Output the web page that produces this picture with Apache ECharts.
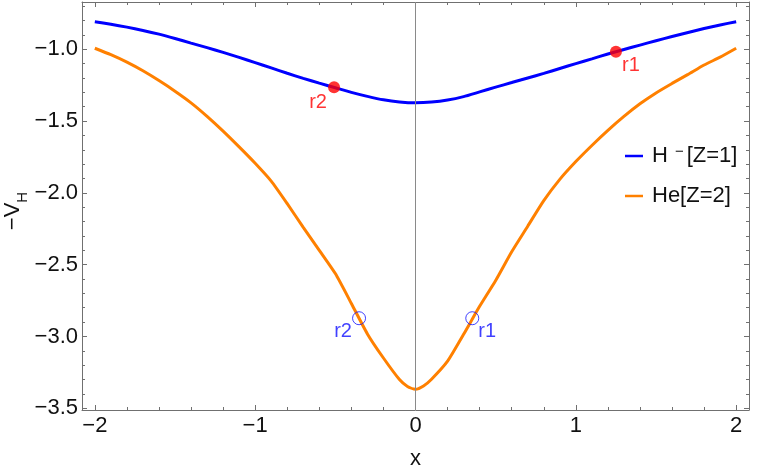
<!DOCTYPE html>
<html>
<head>
<meta charset="utf-8">
<script src="https://cdn.jsdelivr.net/npm/echarts@6/dist/echarts.min.js"></script>
<style>html,body{margin:0;padding:0;background:#fff}#c{width:766px;height:473px}</style>
</head>
<body>
<div id="c"></div>
<script>
// ---- data ----
const xRange = [-2.08, 2.08];
const yRange = [-3.512, -0.671];
const xTicks = [-2, -1, 0, 1, 2];
const xMinorTicks = [-1.8,-1.6,-1.4,-1.2,-0.8,-0.6,-0.4,-0.2,0.2,0.4,0.6,0.8,1.2,1.4,1.6,1.8];
const yTicks = [-3.5, -3.0, -2.5, -2.0, -1.5, -1.0];
const yMinorTicks = [-3.4,-3.3,-3.2,-3.1,-2.9,-2.8,-2.7,-2.6,-2.4,-2.3,-2.2,-2.1,-1.9,-1.8,-1.7,-1.6,-1.4,-1.3,-1.2,-1.1,-0.9,-0.8,-0.7];

const hName = 'H-';
const heName = 'He';
const hX = [-2.0,-1.9,-1.8,-1.7,-1.6,-1.5,-1.4,-1.3,-1.2,-1.1,-1.0,-0.9,-0.8,-0.7,-0.6,-0.5,-0.4,-0.3,-0.2,-0.1,0,
            0.1,0.2,0.3,0.4,0.5,0.6,0.7,0.8,0.9,1.0,1.1,1.2,1.3,1.4,1.5,1.6,1.7,1.8,1.9,2.0];
const hY = [-0.808,-0.826,-0.846,-0.869,-0.895,-0.925,-0.957,-0.989,-1.022,-1.057,-1.093,-1.130,-1.167,-1.203,-1.236,-1.268,-1.300,-1.328,-1.352,-1.367,-1.373,
            -1.368,-1.354,-1.330,-1.297,-1.264,-1.232,-1.200,-1.168,-1.134,-1.100,-1.067,-1.033,-1.002,-0.971,-0.941,-0.911,-0.883,-0.856,-0.831,-0.808];
const heX = [-2.0,-1.9,-1.8,-1.7,-1.6,-1.5,-1.4,-1.3,-1.2,-1.1,-1.0,-0.9,-0.8,-0.7,-0.6,-0.5,-0.4,-0.3,-0.2,-0.1,-0.05,0,
             0.05,0.1,0.2,0.3,0.4,0.5,0.6,0.7,0.8,0.9,1.0,1.1,1.2,1.3,1.4,1.5,1.6,1.7,1.8,1.9,2.0];
const heY = [-0.993,-1.038,-1.090,-1.150,-1.218,-1.292,-1.373,-1.467,-1.570,-1.680,-1.794,-1.918,-2.075,-2.240,-2.400,-2.562,-2.770,-2.982,-3.150,-3.300,-3.348,-3.368,
             -3.345,-3.298,-3.172,-2.985,-2.790,-2.610,-2.410,-2.232,-2.054,-1.906,-1.782,-1.670,-1.565,-1.468,-1.380,-1.304,-1.238,-1.175,-1.110,-1.055,-0.993];
const redNames = ['r1', 'r2'];
const redX = [1.25, -0.508];
const redY = [-1.017, -1.265];
const blueNames = ['r1', 'r2'];
const blueX = [0.354, -0.352];
const blueY = [-2.873, -2.873];

// ---- chart ----
const FONT = 'Liberation Sans, Arial, sans-serif';
const FRAME = '#707070';
const minus = v => (v < 0 ? '\u2212' : '') + Math.abs(v);

function xAx(pos, ticks, len, line, label) {
  return {
    type: 'value', position: pos, min: xRange[0], max: xRange[1],
    axisLine: { show: line, onZero: false, lineStyle: { color: FRAME, width: 1 } },
    axisTick: { show: true, inside: true, length: len, customValues: ticks, lineStyle: { color: FRAME } },
    axisLabel: label ? { show: true, customValues: ticks, margin: 5, color: '#111', fontSize: 22, fontFamily: FONT, formatter: v => minus(v) } : { show: false },
    splitLine: { show: false }
  };
}
function yAx(pos, ticks, len, line, label) {
  return {
    type: 'value', position: pos, min: yRange[0], max: yRange[1],
    axisLine: { show: line, onZero: false, lineStyle: { color: FRAME, width: 1 } },
    axisTick: { show: true, inside: true, length: len, customValues: ticks, lineStyle: { color: FRAME } },
    axisLabel: label ? { show: true, customValues: ticks, margin: 4, color: '#111', fontSize: 22, fontFamily: FONT,
      formatter: v => (v < 0 ? '\u2212' : '') + Math.abs(v).toFixed(1) } : { show: false },
    splitLine: { show: false }
  };
}

const xAxes = [xAx('bottom', xTicks, 5, true, true), xAx('bottom', xMinorTicks, 3, false, false),
               xAx('top', xTicks, 5, true, false), xAx('top', xMinorTicks, 3, false, false)];
xAxes[0].name = 'x';
xAxes[0].nameLocation = 'middle';
xAxes[0].nameGap = 38;
xAxes[0].nameMoveOverlap = false;
xAxes[0].nameTextStyle = { fontSize: 22, fontFamily: FONT, color: '#111' };

const yAxes = [yAx('left', yTicks, 5, true, true), yAx('left', yMinorTicks, 3, false, false),
               yAx('right', yTicks, 5, true, false), yAx('right', yMinorTicks, 3, false, false)];
yAxes[0].name = '{a|\u2212V}{b|H}';
yAxes[0].nameLocation = 'middle';
yAxes[0].nameRotate = 90;
yAxes[0].nameGap = 52;
yAxes[0].nameMoveOverlap = false;
yAxes[0].nameTextStyle = {
  fontFamily: FONT, color: '#111', padding: [0, 10, 0, 0],
  rich: {
    a: { fontSize: 22, fontFamily: FONT, color: '#111', lineHeight: 28, verticalAlign: 'top' },
    b: { fontSize: 15, fontFamily: FONT, color: '#111', lineHeight: 15, verticalAlign: 'bottom' }
  }
};

const zip = (xs, ys) => xs.map((x, i) => [x, ys[i]]);

const option = {
  animation: false,
  grid: { left: 82, right: 17, top: 2, bottom: 63, containLabel: false, outerBoundsMode: 'none' },
  xAxis: xAxes,
  yAxis: yAxes,
  legend: {
    orient: 'vertical', left: 620, top: 139, itemGap: 18,
    icon: 'rect', itemWidth: 18, itemHeight: 2.5,
    data: [hName, heName],
    formatter: n => n === hName ? '{n|H}{s|\u2212}{m|[Z=1]}' : '{n|He[Z=2]}',
    textStyle: {
      fontFamily: FONT, color: '#111', fontSize: 22,
      rich: {
        n: { fontSize: 22, fontFamily: FONT, color: '#111', lineHeight: 24, padding: [0, 0, 0, 4] },
        s: { fontSize: 15, fontFamily: FONT, color: '#111', lineHeight: 15, verticalAlign: 'top', padding: [0, 3, 0, 7] },
        m: { fontSize: 22, fontFamily: FONT, color: '#111', lineHeight: 24 }
      }
    }
  },
  series: [
    {
      name: heName, type: 'line', data: zip(heX, heY), showSymbol: false, smooth: 0.2,
      lineStyle: { color: '#ff8000', width: 3 }, itemStyle: { color: '#ff8000' }, z: 2,
      markLine: {
        silent: true, symbol: 'none', label: { show: false },
        lineStyle: { color: '#8a8a8a', width: 1, type: 'solid' },
        data: [{ xAxis: 0 }]
      }
    },
    {
      name: hName, type: 'line', data: zip(hX, hY), showSymbol: false, smooth: 0.2,
      lineStyle: { color: '#0000ff', width: 3 }, itemStyle: { color: '#0000ff' }, z: 3
    },
    {
      type: 'scatter', symbol: 'circle', symbolSize: 12, z: 5,
      itemStyle: { color: '#ff0000' },
      data: redX.map((x, i) => ({ name: redNames[i], value: [x, redY[i]],
        label: { offset: i === 0 ? [15, 14] : [-16, 15] } })),
      label: { show: true, position: 'inside', formatter: p => p.name, color: '#ff0000', fontSize: 20, fontFamily: FONT }
    },
    {
      type: 'scatter', symbol: 'circle', symbolSize: 13, z: 5,
      itemStyle: { color: 'rgba(0,0,0,0)', borderColor: '#1010ff', borderWidth: 1 },
      data: blueX.map((x, i) => ({ name: blueNames[i], value: [x, blueY[i]],
        label: { offset: i === 0 ? [15, 13] : [-16, 13] } })),
      label: { show: true, position: 'inside', formatter: p => p.name, color: '#1010ff', fontSize: 20, fontFamily: FONT }
    }
  ]
};

const chart = echarts.init(document.getElementById('c'), null, { renderer: 'canvas' });
chart.setOption(option);
</script>
</body>
</html>
